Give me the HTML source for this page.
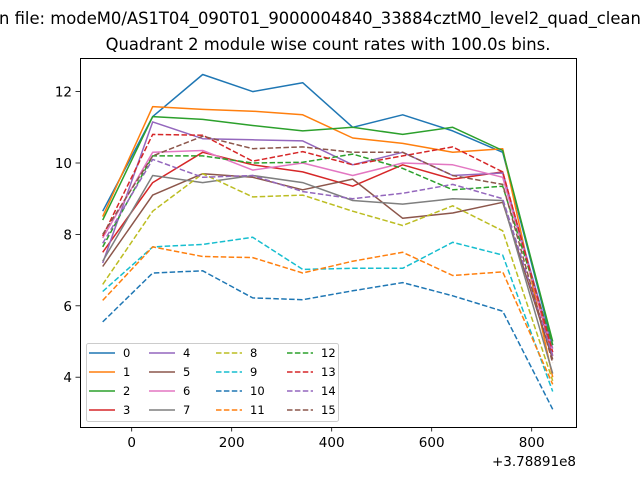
<!DOCTYPE html>
<html><head><meta charset="utf-8"><style>
body{margin:0;background:#fff;}
svg{display:block;font-family:"DejaVu Sans","Liberation Sans",sans-serif;}
</style></head><body>
<svg id="chart" width="640" height="480" viewBox="0 0 640 480" xmlns="http://www.w3.org/2000/svg">
<text x="-1" y="24" font-size="16.4">n file: modeM0/AS1T04_090T01_9000004840_33884cztM0_level2_quad_clean.evt</text>
<text x="328" y="50" font-size="16.4" text-anchor="middle">Quadrant 2 module wise count rates with 100.0s bins.</text>
<g id="plot"></g>
<rect x="80.5" y="58.5" width="496" height="369" fill="none" stroke="#000" stroke-width="1"/>
<g id="xaxis"></g>
<g id="yaxis"></g>
<text x="576" y="466" font-size="13.5" text-anchor="end">+3.78891e8</text>
<g id="legend"></g>
</svg>
<script>
const xValues=[-58,42,142,242,342,442,542,642,742,842];
const seriesNames=["0","1","2","3","4","5","6","7","8","9","10","11","12","13","14","15"];
const s0=[8.65,11.3,12.48,12.0,12.25,11.0,11.35,10.9,10.3,4.9];
const s1=[8.5,11.58,11.5,11.45,11.35,10.7,10.55,10.3,10.4,4.0];
const s2=[8.4,11.3,11.22,11.05,10.9,11.0,10.8,11.0,10.35,5.0];
const s3=[7.5,9.45,10.3,9.95,9.75,9.35,9.95,9.55,9.75,4.6];
const s4=[7.2,11.15,10.68,10.65,10.62,9.95,10.3,9.65,9.72,4.8];
const s5=[7.1,9.1,9.7,9.6,9.25,9.55,8.45,8.6,8.9,4.5];
const s6=[7.9,10.3,10.35,9.8,10.0,9.65,10.0,9.95,9.6,4.7];
const s7=[7.25,9.65,9.45,9.65,9.45,8.95,8.85,9.0,8.95,4.1];
const s8=[6.6,8.65,9.7,9.05,9.1,8.65,8.25,8.8,8.1,3.9];
const s9=[6.4,7.65,7.72,7.92,7.02,7.05,7.05,7.78,7.42,3.6];
const s10=[5.55,6.92,6.98,6.22,6.17,6.42,6.65,6.28,5.85,3.1];
const s11=[6.15,7.65,7.38,7.35,6.92,7.25,7.5,6.85,6.95,3.8];
const s12=[7.65,10.2,10.2,10.0,10.02,10.25,9.85,9.25,9.35,4.9];
const s13=[7.95,10.8,10.78,10.05,10.32,9.95,10.2,10.45,9.75,4.7];
const s14=[7.75,10.1,9.6,9.65,9.2,9.0,9.15,9.4,9.0,4.6];
const s15=[8.0,10.2,10.75,10.4,10.45,10.3,10.3,9.65,9.4,4.4];
const xTicks=[0,200,400,600,800];
const yTicks=[4,6,8,10,12];
const allSeries=[s0,s1,s2,s3,s4,s5,s6,s7,s8,s9,s10,s11,s12,s13,s14,s15];
const colors=["#1f77b4","#ff7f0e","#2ca02c","#d62728","#9467bd","#8c564b","#e377c2","#7f7f7f","#bcbd22","#17becf"];
const NS="http://www.w3.org/2000/svg";
function xs(v){return 131.7+v*0.5;}
function ys(v){return 163-(v-10)*35.7;}
function mk(t,a,p){const e=document.createElementNS(NS,t);for(const k in a)e.setAttribute(k,a[k]);p.appendChild(e);return e;}
const plot=document.getElementById('plot');
allSeries.forEach((s,i)=>{
  const pts=s.map((v,j)=>xs(xValues[j]).toFixed(1)+','+ys(v).toFixed(1)).join(' ');
  const a={points:pts,fill:'none',stroke:colors[i%10],'stroke-width':1.5,'stroke-linejoin':'round'};
  if(i>=8)a['stroke-dasharray']='5.5,2.4';
  const pl=mk('polyline',a,plot);
  
  
});
const xa=document.getElementById('xaxis');
xTicks.forEach(t=>{
  const x=xs(t);
  const l=mk('line',{x1:x,x2:x,y1:427,y2:431.5,stroke:'#000','stroke-width':0.8},xa);
  
  
  const tx=mk('text',{x:x,y:447,'font-size':13.5,'text-anchor':'middle'},xa);
  tx.textContent=t;
  
  
});
const ya=document.getElementById('yaxis');
yTicks.forEach(t=>{
  const y=ys(t);
  const l=mk('line',{x1:75.5,x2:80,y1:y,y2:y,stroke:'#000','stroke-width':0.8},ya);
  
  
  const tx=mk('text',{x:72,y:y+5,'font-size':13.5,'text-anchor':'end'},ya);
  tx.textContent=t;
  
  
});
const lg=document.getElementById('legend');
const box=mk('rect',{x:86.5,y:343.5,width:252,height:78,rx:2,fill:'#fff','fill-opacity':0.8,stroke:'#ccc'},lg);


const colX=[89,149,216,287];
seriesNames.forEach((n,i)=>{
  const c=Math.floor(i/4),r=i%4;
  const x=colX[c],y=353+r*19;
  const a={x1:x,x2:x+26,y1:y,y2:y,stroke:colors[i%10],'stroke-width':1.5};
  if(i>=8)a['stroke-dasharray']='5.5,2.4';
  const l=mk('line',a,lg);
  
  
  const tx=mk('text',{x:x+34,y:y+4,'font-size':11.5},lg);
  tx.textContent=n;
  
  
});
</script>
</body></html>
